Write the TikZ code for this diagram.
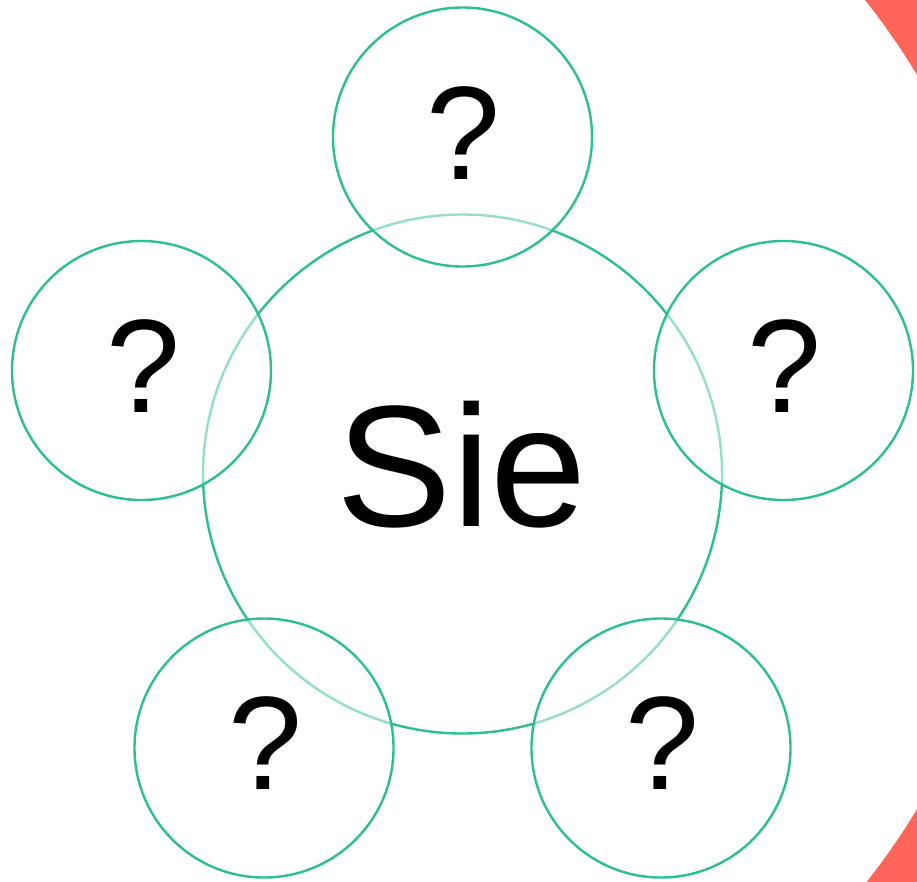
\documentclass[tikz,border=0pt]{standalone}
\usepackage{fontspec}
\setmainfont{Liberation Sans}
\definecolor{mint}{HTML}{2DBE91}
\definecolor{coral}{HTML}{FF6659}
\begin{document}
\begin{tikzpicture}[x=1pt,y=-1pt,
  ring/.style={draw=mint,line width=2.4pt},
  satellite/.style={ring,fill=white,fill opacity=0.5,draw opacity=1},
  qmark/.style={inner sep=0pt,font=\fontsize{133}{133}\selectfont},
  centre/.style={inner sep=0pt,font=\fontsize{173}{173}\selectfont}]
\useasboundingbox (0,0) rectangle (917,881);
\begin{scope}
\clip (0,0) rectangle (917,881);
\draw[coral,line width=300pt] (308,442) circle[radius=861];
\end{scope}
\draw[ring] (462.5,474) circle[radius=259.5];
\draw[satellite] (462.5,137) circle[radius=129.5];
\draw[satellite] (141.5,370.5) circle[radius=129.5];
\draw[satellite] (783.5,370.5) circle[radius=129.5];
\draw[satellite] (264,748) circle[radius=129.5];
\draw[satellite] (661,748) circle[radius=129.5];
\node[centre] (sie) at (462,465) {Sie};
\node[qmark] (q1) at (463,133.5) {?};
\node[qmark] (q2) at (143,366) {?};
\node[qmark] (q3) at (784,366) {?};
\node[qmark] (q4) at (265,743) {?};
\node[qmark] (q5) at (662,743) {?};
\end{tikzpicture}
\end{document}
